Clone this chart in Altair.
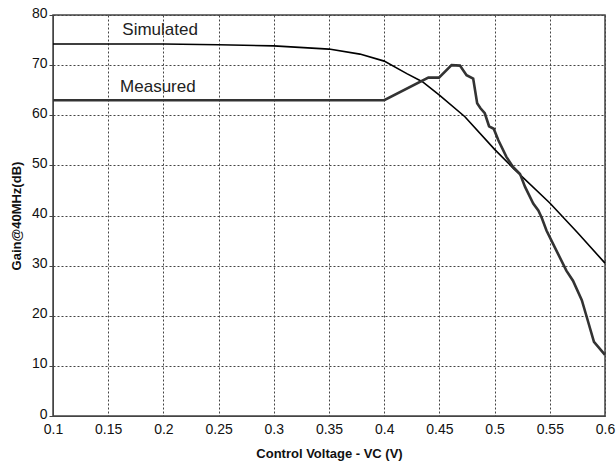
import altair as alt
import pandas as pd

# Simulated curve
sim_x = [0.10, 0.15, 0.20, 0.233, 0.25, 0.30, 0.35, 0.378, 0.40, 0.4205, 0.4346,
         0.45, 0.4731, 0.50, 0.517, 0.55, 0.575, 0.60]
sim_y = [74.2, 74.2, 74.2, 74.1, 74.05, 73.85, 73.2, 72.2, 70.8, 68.3, 66.7,
         64.0, 59.7, 53.2, 49.4, 42.5, 36.6, 30.5]

# Measured curve
meas_x = [0.10, 0.40, 0.44, 0.4496, 0.461, 0.4686, 0.4746, 0.4806, 0.4842, 0.4872,
          0.4911, 0.495, 0.4992, 0.5034, 0.5107, 0.5167, 0.523, 0.5276, 0.535,
          0.5396, 0.5426, 0.547, 0.556, 0.565, 0.571, 0.579, 0.5834, 0.590, 0.60]
meas_y = [63.0, 63.0, 67.5, 67.5, 70.0, 69.9, 68.0, 67.3, 62.4, 61.4,
          60.4, 57.8, 57.3, 55.0, 51.7, 49.7, 48.3, 45.7, 42.4,
          41.0, 39.6, 37.0, 33.0, 29.0, 27.0, 23.1, 19.8, 14.8, 12.2]

label_text = ["Simulated", "Measured"]
label_x = [0.197, 0.195]
label_y = [77.0, 65.6]

x_ticks = [0.1, 0.15, 0.2, 0.25, 0.3, 0.35, 0.4, 0.45, 0.5, 0.55, 0.6]
y_ticks = [0, 10, 20, 30, 40, 50, 60, 70, 80]

sim = pd.DataFrame({"x": sim_x, "y": sim_y})
meas = pd.DataFrame({"x": meas_x, "y": meas_y})
labels = pd.DataFrame({"x": label_x, "y": label_y, "t": label_text})

xscale = alt.Scale(domain=[0.1, 0.6], nice=False, zero=False)
yscale = alt.Scale(domain=[0, 80], nice=False)

xaxis = alt.Axis(values=x_ticks, format="~g", title="Control Voltage - VC (V)",
                 grid=True, gridDash=[2, 2], gridColor="#444", gridWidth=1,
                 tickSize=0, labelPadding=6, labelFontSize=14, labelColor="#111",
                 labelFont="Liberation Sans", titleFont="Liberation Sans",
                 titleFontSize=13, titleFontWeight="bold", titleColor="#111",
                 titlePadding=11, domainColor="#444", labelFlush=False)
yaxis = alt.Axis(values=y_ticks, title="Gain@40MHz(dB)",
                 grid=True, gridDash=[2, 2], gridColor="#444", gridWidth=1,
                 tickSize=4, tickColor="#444", labelPadding=2, labelFontSize=14,
                 labelColor="#111", labelFont="Liberation Sans", labelOffset=-2,
                 titleFont="Liberation Sans", titleFontSize=13,
                 titleFontWeight="bold", titleColor="#111", titlePadding=8,
                 domainColor="#444")

sim_line = alt.Chart(sim).mark_line(color="#000", strokeWidth=1.6).encode(
    x=alt.X("x:Q", scale=xscale, axis=xaxis),
    y=alt.Y("y:Q", scale=yscale, axis=yaxis),
)
meas_line = alt.Chart(meas).mark_line(color="#333", strokeWidth=2.6).encode(
    x=alt.X("x:Q", scale=xscale),
    y=alt.Y("y:Q", scale=yscale),
)
text = alt.Chart(labels).mark_text(font="Liberation Sans", fontSize=17,
                                   color="#222", align="center",
                                   baseline="middle").encode(
    x=alt.X("x:Q", scale=xscale),
    y=alt.Y("y:Q", scale=yscale),
    text="t:N",
)

chart = alt.layer(sim_line, meas_line, text).properties(
    width=552, height=401,
    autosize=alt.AutoSizeParams(type="none"),
    padding={"left": 53, "top": 15, "right": 11, "bottom": 51},
    background="white",
).configure_view(stroke="#444", strokeWidth=1.5)

chart.save("out.html", embed_options={"renderer": "svg", "actions": False})
